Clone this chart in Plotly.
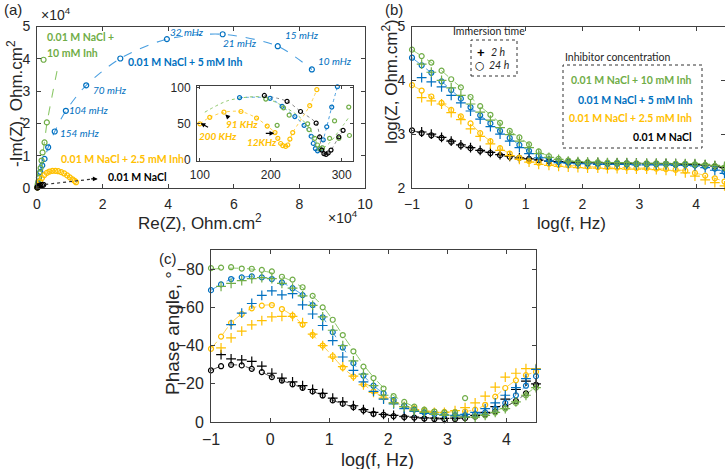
import plotly.graph_objects as go

OFF = 0
W, H = 725, 469

# ---------------- DATA ----------------
# (a) Nyquist, units of 1e4 Ohm.cm2
nyq_blue_x = [0.01, 0.03, 0.06, 0.10, 0.16, 0.23, 0.34, 0.54, 0.88, 1.50, 2.54, 3.96, 5.66, 7.34, 8.38]
nyq_blue_y = [0.03, 0.15, 0.32, 0.50, 0.70, 0.90, 1.26, 1.75, 2.39, 3.18, 4.01, 4.61, 4.76, 4.39, 3.67]
nyq_green_x = [0.01, 0.02, 0.04, 0.06, 0.08, 0.11, 0.14, 0.17, 0.23, 0.30, 0.20]
nyq_green_y = [0.02, 0.10, 0.20, 0.32, 0.45, 0.62, 0.85, 1.10, 1.41, 2.03, 3.97]
nyq_green_fit_x = [0.02, 0.12, 0.30, 0.45, 0.61]
nyq_green_fit_y = [0.05, 0.60, 1.98, 2.80, 3.62]
nyq_orange_x = [0.02, 0.05, 0.09, 0.15, 0.22, 0.30, 0.38, 0.47, 0.56, 0.65, 0.74, 0.83, 0.92, 1.00, 1.08, 1.15, 1.19]
nyq_orange_y = [0.02, 0.08, 0.20, 0.31, 0.40, 0.47, 0.51, 0.53, 0.53, 0.52, 0.49, 0.45, 0.39, 0.33, 0.27, 0.22, 0.18]
nyq_black_x = [0.01, 0.03, 0.06, 0.10, 0.15, 0.19]
nyq_black_y = [0.01, 0.04, 0.06, 0.08, 0.09, 0.10]

# (a) inset, Ohm.cm2
ins_orange_x = [100, 114, 134, 158, 180, 195, 206, 210, 214, 217, 221, 224, 227, 231, 255, 265]
ins_orange_y = [50, 59, 66, 67, 58, 47, 38, 30, 23, 20, 19, 21, 29, 38, 75, 97]
ins_blue_x = [156, 199, 216, 234, 247, 257, 260, 263, 266, 270, 274, 279, 286, 294]
ins_blue_y = [86, 85, 74, 60, 48, 33, 23, 16, 13, 15, 28, 46, 73, 101]
ins_green_x = [193, 218, 226, 209, 252, 254, 262, 266, 269, 273, 283, 290, 296, 310, 311]
ins_green_y = [84, 72, 62, 48, 50, 42, 30, 21, 16, 17, 30, 54, 30, 73, 34]
ins_green_fit_x = [107, 140, 187, 218, 240, 256, 266, 272, 283, 296, 311]
ins_green_fit_y = [66, 82, 87, 74, 60, 42, 22, 16, 24, 40, 60]
ins_black_x = [191, 223, 242, 264, 269, 272, 275, 278, 281, 285, 296, 302]
ins_black_y = [89, 81, 67, 51, 32, 14, 9, 8, 10, 14, 32, 41]

# (b), (c) Bode data: log frequency grid
log_f = [-1.0, -0.83, -0.66, -0.48, -0.31, -0.14, 0.03, 0.2, 0.38, 0.55, 0.72, 0.89,
         1.06, 1.23, 1.41, 1.58, 1.75, 1.92, 2.09, 2.27, 2.44, 2.61, 2.78, 2.95,
         3.13, 3.3, 3.47, 3.64, 3.81, 3.98, 4.16, 4.33, 4.5]

# (b) log|Z|
green24_b = [4.57, 4.45, 4.33, 4.18, 4.02, 3.87, 3.69, 3.52, 3.36, 3.21, 3.06, 2.94, 2.81, 2.68, 2.59, 2.54, 2.51, 2.49,
             2.48, 2.48, 2.47, 2.47, 2.46, 2.46, 2.46, 2.46, 2.45, 2.45, 2.45, 2.44, 2.43, 2.41, 2.38]
green2h_b = [None, 4.30, 4.15, 4.00, 3.86, 3.72, 3.56, 3.41, 3.26, 3.12, 2.99, 2.87, 2.75, 2.64, 2.57, 2.53, 2.50, 2.49,
             2.48, 2.48, 2.47, 2.47, 2.47, 2.46, 2.46, 2.46, 2.46, 2.45, 2.45, 2.45, 2.44, 2.42, 2.40]
blue24_b = [4.42, 4.28, 4.14, 3.98, 3.82, 3.66, 3.50, 3.35, 3.20, 3.06, 2.93, 2.80, 2.69, 2.60, 2.53, 2.49, 2.47, 2.46,
            2.45, 2.45, 2.45, 2.45, 2.44, 2.44, 2.44, 2.44, 2.44, 2.43, 2.43, 2.42, 2.40, 2.36, 2.30]
blue2h_b = [None, 4.05, 3.97, 3.88, 3.72, 3.58, 3.43, 3.28, 3.14, 3.00, 2.87, 2.75, 2.64, 2.56, 2.50, 2.47, 2.46, 2.45,
            2.45, 2.44, 2.44, 2.44, 2.44, 2.43, 2.43, 2.43, 2.43, 2.42, 2.42, 2.41, 2.38, 2.33, 2.27]
orange24_b = [3.91, 3.81, 3.70, 3.58, 3.45, 3.33, 3.20, 3.02, 2.87, 2.74, 2.64, 2.56, 2.50, 2.47, 2.45, 2.43, 2.42, 2.41,
              2.40, 2.39, 2.39, 2.38, 2.38, 2.37, 2.37, 2.36, 2.35, 2.34, 2.32, 2.28, 2.23, 2.18, 2.12]
orange2h_b = [None, 3.68, 3.62, 3.56, 3.40, 3.27, 3.10, 2.96, 2.82, 2.70, 2.60, 2.53, 2.48, 2.44, 2.42, 2.40, 2.39, 2.38,
              2.37, 2.37, 2.36, 2.36, 2.35, 2.35, 2.35, 2.34, 2.33, 2.32, 2.28, 2.22, 2.15, 2.10, 2.04]
black24_b = [3.07, 3.02, 2.98, 2.93, 2.86, 2.79, 2.74, 2.69, 2.65, 2.61, 2.58, 2.56, 2.54, 2.52, 2.50, 2.49, 2.48, 2.47,
             2.47, 2.46, 2.46, 2.46, 2.46, 2.45, 2.45, 2.45, 2.45, 2.44, 2.44, 2.43, 2.42, 2.40, 2.37]
black2h_b = [None, 3.04, 3.00, 2.94, 2.87, 2.80, 2.75, 2.70, 2.66, 2.62, 2.59, 2.56, 2.54, 2.52, 2.50, 2.49, 2.48, 2.47,
             2.47, 2.47, 2.46, 2.46, 2.46, 2.46, 2.45, 2.45, 2.45, 2.45, 2.44, 2.44, 2.43, 2.41, 2.38]

# (c) phase angle
green24_c = [-80.5, -80.8, -81, -80.3, -80.2, -79.6, -78.8, -76, -74.5, -70.5, -66, -60, -53.5, -45.5, -37, -29, -23, -17.5,
             -13.5, -10.5, -8, -6.5, -5.5, -5, -5, -12.5, -3, -3.5, -5, -7, -10, -14, -18]
green_fit_c = [-80, -80.3, -80.5, -80.4, -80, -79.2, -78, -76, -73.5, -70.3, -66, -60.5, -53.5, -45.5, -37.5, -30, -23.5, -18,
               -13.8, -10.5, -8, -6.3, -5, -4.2, -3.7, -3.5, -3.6, -4.3, -5.8, -8, -11, -14.5, -18.5]
green2h_c = [None, -71, -72.5, -74, -75, -75.5, -75, -72.5, -70, -66, -61, -55, -48, -40, -32, -25, -19, -14,
             -10, -8, -6, -5, -4, -3.5, -3, -2.5, -2.5, -3.5, -5, -7, -10.5, -14, -18]
blue24_c = [-69, -72, -74.8, -75.7, -76.2, -75.7, -74.8, -73, -70, -66.4, -61.2, -54.8, -47, -39, -30.8, -24.3, -19, -15,
            -11.5, -8.5, -6.5, -5, -4.2, -3.8, -3.6, -3.6, -4, -5, -7, -10, -14, -19, -24]
blue2h_c = [None, None, -51, -57, -62, -66.3, -68.6, -66.5, -67.2, -61.3, -56.5, -50.5, -42.6, -34, -27, -21, -16, -12,
            -9.5, -7, -5.5, -4.5, -4, -3.5, -3.5, -4, -5, -7, -10, -14, -18, -22.7, -27.5]
orange24_c = [-38.3, -44.7, -51.8, -56.5, -59.5, -60.9, -61.2, -59.1, -55.7, -51, -45.6, -40, -34.4, -28.5, -23.8, -19.7, -16, -13,
              -10.5, -8.5, -7, -6, -5.5, -5.3, -5.3, -5.5, -6.5, -9, -13.3, -17.8, -21.8, -24.5, -26.3]
orange2h_c = [None, -38.8, -44, -47.5, -50.8, -53, -55, -55.3, -55.3, -52, -46, -40, -34, -29, -24, -19.5, -15.5, -12.5,
              -10, -8, -6.5, -5.5, -5, -5, -6, -7.5, -10, -13.5, -18.3, -23.5, -25.5, -27.9, -27.9]
black24_c = [-27, -29.2, -29.9, -29.6, -27.8, -26.1, -23.5, -21.7, -19.7, -17.9, -16, -13.9, -11.3, -9.6, -7.8, -6.1, -4.3, -3.8,
             -3.1, -2.6, -2.3, -1.8, -1.6, -1.5, -1.6, -2, -2.8, -3.8, -5.5, -8, -11, -15, -19.5]
black2h_c = [None, -35.3, -33, -32.5, -31.7, -29.2, -25.5, -23, -21, -19, -17, -15, -12.5, -10.5, -8.5, -6.5, -5, -4,
             -3.5, -3, -2.5, -2.2, -2, -1.9, -2, -2.5, -3.5, -5, -8, -12, -17, -21.4, -20]

freq_labels = ["32 mHz", "21 mHz", "15 mHz", "10 mHz", "70 mHz", "104 mHz", "154 mHz"]
legend_labels = ["0.01 M NaCl + 10 mM Inh", "0.01 M NaCl + 5 mM Inh", "0.01 M NaCl + 2.5 mM Inh", "0.01 M NaCl"]

# ---------------- STYLE ----------------
GREEN, BLUE, ORANGE, BLACK = "#70AD47", "#0070C0", "#FFC000", "#000000"
GREEN_L, BLUE_L, ORANGE_L, BLACK_L = "#8DC86A", "#4A9FE0", "#FFD24D", "#555555"
AXF = "Liberation Sans, Arial, sans-serif"
LBF = "Lato, Open Sans, sans-serif"


def px(x):
    # page pixel -> paper fraction
    return (x - OFF) / W


def py(y):
    return 1 - (y - OFF) / H


def axis(size=14, **kw):
    d = dict(showline=True, linecolor="#404040", linewidth=1, mirror="ticks", ticks="inside",
             ticklen=4, tickcolor="#404040", showgrid=False, zeroline=False,
             tickfont=dict(family=AXF, size=size, color="#262626"), ticklabelstandoff=3)
    d.update(kw)
    return d


fig = go.Figure()


def circ(x, y, c, xa, ya, size=5):
    fig.add_trace(go.Scatter(x=x, y=y, mode="markers", xaxis=xa, yaxis=ya, showlegend=False,
                             marker=dict(symbol="circle-open", size=size, color=c, line=dict(width=1.2, color=c)),
                             cliponaxis=False))


def cross(x, y, c, xa, ya, size=7):
    fig.add_trace(go.Scatter(x=x, y=y, mode="markers", xaxis=xa, yaxis=ya, showlegend=False,
                             marker=dict(symbol="cross-thin-open", size=size, color=c, line=dict(width=1.2, color=c)),
                             cliponaxis=False))


def fit(x, y, c, xa, ya, width=1.1, dash="dash"):
    fig.add_trace(go.Scatter(x=x, y=y, mode="lines", xaxis=xa, yaxis=ya, showlegend=False,
                             line=dict(color=c, width=width, dash=dash, shape="spline", smoothing=0.8),
                             connectgaps=True, hoverinfo="skip"))


# ---- (a) main ----
fit(nyq_blue_x, nyq_blue_y, BLUE_L, "x", "y", dash="dash")
fit(nyq_green_fit_x, nyq_green_fit_y, GREEN_L, "x", "y")
fit(nyq_orange_x, nyq_orange_y, ORANGE_L, "x", "y")
circ(nyq_blue_x, nyq_blue_y, BLUE, "x", "y")
circ(nyq_green_x, nyq_green_y, GREEN, "x", "y")
circ(nyq_orange_x, nyq_orange_y, ORANGE, "x", "y")
circ(nyq_black_x, nyq_black_y, BLACK, "x", "y")

# ---- (a) inset ----
fit(ins_orange_x, ins_orange_y, ORANGE_L, "x2", "y2", width=1, dash="dot")
fit(ins_blue_x, ins_blue_y, BLUE_L, "x2", "y2", width=1, dash="dot")
fit(ins_green_fit_x, ins_green_fit_y, GREEN_L, "x2", "y2", width=1, dash="dot")
fit(ins_black_x, ins_black_y, "#888888", "x2", "y2", width=1, dash="dot")
circ(ins_orange_x, ins_orange_y, ORANGE, "x2", "y2", size=4)
circ(ins_blue_x, ins_blue_y, BLUE, "x2", "y2", size=4)
circ(ins_green_x, ins_green_y, GREEN, "x2", "y2", size=4)
circ(ins_black_x, ins_black_y, BLACK, "x2", "y2", size=4)

# ---- (b) ----
for arr, c in [(green24_b, GREEN_L), (blue24_b, BLUE_L), (orange24_b, ORANGE_L), (black24_b, BLACK_L)]:
    fit(log_f, arr, c, "x3", "y3", width=1)
for a24, a2, c in [(black24_b, black2h_b, BLACK), (orange24_b, orange2h_b, ORANGE),
                   (blue24_b, blue2h_b, BLUE), (green24_b, green2h_b, GREEN)]:
    cross(log_f, a2, c, "x3", "y3")
    circ(log_f, a24, c, "x3", "y3")

# ---- (c) ----
for arr, c in [(green_fit_c, GREEN_L), (blue24_c, BLUE_L), (orange24_c, ORANGE_L), (black24_c, BLACK_L)]:
    fit(log_f, arr, c, "x4", "y4", width=1)
for a24, a2, c in [(black24_c, black2h_c, BLACK), (orange24_c, orange2h_c, ORANGE),
                   (blue24_c, blue2h_c, BLUE), (green24_c, green2h_c, GREEN)]:
    cross(log_f, a2, c, "x4", "y4")
    circ(log_f, a24, c, "x4", "y4")

fig.update_layout(
    width=W, height=H, margin=dict(l=0, r=0, t=0, b=0, autoexpand=False),
    paper_bgcolor="white", plot_bgcolor="white", showlegend=False,
    xaxis=axis(domain=[px(37), px(365)], range=[0, 10], tickvals=[0, 2, 4, 6, 8, 10], anchor="y"),
    yaxis=axis(domain=[py(188), py(26.5)], range=[0, 5], tickvals=[0, 1, 2, 3, 4, 5], anchor="x"),
    xaxis2=axis(size=12, domain=[px(197), px(353)], range=[96, 316], tickvals=[100, 200, 300], anchor="y2", ticklen=3),
    yaxis2=axis(size=12, domain=[py(161), py(86)], range=[-1, 102], tickvals=[0, 50, 100], anchor="x2", ticklen=3),
    xaxis3=axis(domain=[px(412), px(724.5)], range=[-1, 4.5], tickvals=[-1, 0, 1, 2, 3, 4], anchor="y3"),
    yaxis3=axis(domain=[py(188), py(26.5)], range=[2, 5], tickvals=[2, 3, 4, 5], anchor="x3"),
    xaxis4=axis(size=16, domain=[px(211), px(536)], range=[-1, 4.5], tickvals=[-1, 0, 1, 2, 3, 4], anchor="y4"),
    yaxis4=axis(size=16, domain=[py(422), py(250)], range=[0, -90], tickvals=[0, -20, -40, -60, -80], anchor="x4"),
)

ann = []


def text(t, x, y, size=14, color="#262626", family=AXF, xanchor="center", angle=0, bold=False, italic=False):
    if italic:
        t = "<i>" + t + "</i>"
    if bold:
        t = "<b>" + t + "</b>"
    ann.append(dict(text=t, x=px(x), y=py(y), xref="paper", yref="paper", showarrow=False,
                    xanchor=xanchor, yanchor="middle", textangle=angle,
                    font=dict(family=family, size=size, color=color)))


# panel labels
text("(a)", 2, 9, size=15, xanchor="left")
text("(b)", 383, 9, size=15, xanchor="left")
text("(c)", 157, 258, size=15, xanchor="left")

# (a) axis titles
text("-Im(Z), Ohm.cm<sup>2</sup>", 15, 104, size=17, angle=-90)
text("Re(Z), Ohm.cm<sup>2</sup>", 200, 222, size=17)
text("×10<sup>4</sup>", 39, 14, size=14, xanchor="left")
text("×10<sup>4</sup>", 326, 217, size=14, xanchor="left")

# (a) labels
text("0.01 M NaCl +", 45, 37, size=10.5, color=GREEN, family=LBF, xanchor="left", bold=True)
text("10 mM Inh", 45, 53, size=10.5, color=GREEN, family=LBF, xanchor="left", bold=True)
text(legend_labels[1], 126, 62, size=10.5, color=BLUE, family=LBF, xanchor="left", bold=True)
text(legend_labels[2], 59, 159, size=10.5, color=ORANGE, family=LBF, xanchor="left", bold=True)
text(legend_labels[3], 106, 177, size=10.5, color=BLACK, family=LBF, xanchor="left", bold=True)
for lab, (x, y) in zip(freq_labels, [(187, 32), (240, 43), (302, 35), (335, 61), (110, 90), (89, 110), (80, 133)]):
    text(lab, x, y, size=10, color=BLUE, family=LBF, italic=True)
text("200 KHz", 197, 136, size=10, color=ORANGE, family=LBF, xanchor="left", bold=True, italic=True)
text("91 KHz", 224, 124, size=10, color=ORANGE, family=LBF, xanchor="left", bold=True, italic=True)
text("12KHz", 245, 142, size=10, color=ORANGE, family=LBF, xanchor="left", bold=True, italic=True)

# inset arrows
for (hx, hy, axp, ayp) in [(101, 51, 9, 5), (136, 63, 5, 5), (205, 37, -10, 0)]:
    ann.append(dict(x=hx, y=hy, xref="x2", yref="y2", ax=axp, ay=ayp, text="", showarrow=True,
                    arrowhead=2, arrowsize=0.8, arrowwidth=1.2, arrowcolor="#000000"))
# dashed arrow to 0.01 M NaCl
ann.append(dict(x=1.85, y=0.28, xref="x", yref="y", ax=-8, ay=0, text="", showarrow=True,
                arrowhead=2, arrowsize=0.8, arrowwidth=1.2, arrowcolor="#000000"))

# (b) axis titles & legend
text("log(Z, Ohm.cm<sup>2</sup>)", 390, 82, size=17, angle=-90)
text("log(f, Hz)", 571, 223, size=17)
text("Immersion time", 489, 31, size=10.5, family=LBF)
text("<b>+</b>", 481, 52, size=13, color=BLACK, family=AXF)
text("2 h", 489, 52, size=10.5, family=LBF, xanchor="left", italic=True)
text("○", 480, 65, size=11, color=BLACK, family="DejaVu Sans")
text("24 h", 487, 65, size=10.5, family=LBF, xanchor="left", italic=True)
text("Inhibitor concentration", 563, 57, size=10.5, family=LBF, xanchor="left")
for lab, c, y in zip(legend_labels, [GREEN, BLUE, ORANGE, BLACK], [80, 100, 118, 137]):
    text(lab, 694, y, size=10.5, color=c, family=LBF, xanchor="right", bold=True)

# (c) axis titles
text("Phase angle, °", 172, 333, size=19, angle=-90)
text("log(f, Hz)", 377, 460, size=18)

shapes = [
    dict(type="rect", xref="paper", yref="paper", x0=px(471), x1=px(517), y0=py(76), y1=py(40),
         line=dict(color="#333333", width=1, dash="dot")),
    dict(type="rect", xref="paper", yref="paper", x0=px(563), x1=px(702), y0=py(148), y1=py(65),
         line=dict(color="#333333", width=1, dash="dot")),
    dict(type="line", xref="x", yref="y", x0=0.25, y0=0.11, x1=1.72, y1=0.28,
         line=dict(color="#333333", width=1.2, dash="dot")),
]
fig.update_layout(annotations=ann, shapes=shapes)
# remove the default page margin so the 725x469 figure fills the window exactly
fig.write_html("out.html", config={"displayModeBar": False},
               post_script="document.body.style.margin='0';document.body.style.overflow='hidden';")
